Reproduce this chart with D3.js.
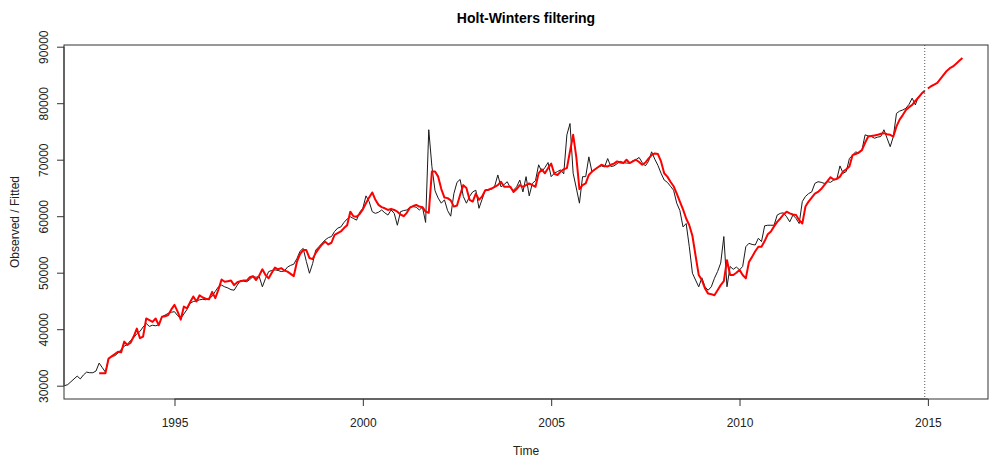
<!DOCTYPE html>
<html>
<head>
<meta charset="utf-8">
<script src="https://cdn.jsdelivr.net/npm/d3@7"></script>
<style>
  body { margin: 0; background: #fff; }
  svg { font-family: "Liberation Sans", Arial, sans-serif; }
</style>
</head>
<body>
<svg id="chart" width="990" height="460"></svg>
<script>
// monthly observed series, starts Jan 1992
const obsStart = 1992;
const observed = [
  30300, 30000, 30200, 30700, 31200, 31700, 31200, 31900, 32400, 32300, 32300, 32600, // 1992
  34000, 33200, 32400, 34800, 35200, 35300, 35800, 36400, 37000, 37300, 38000, 38500, // 1993
  39200, 39600, 40400, 41000, 40500, 40700, 40600, 40800, 42200, 42500, 42800, 43000, // 1994
  43100, 42400, 41900, 42700, 43500, 44600, 44900, 45000, 45200, 45300, 45200, 45500, // 1995
  45800, 46700, 47500, 47800, 47500, 47300, 47000, 46900, 47800, 48600, 48500, 48400, // 1996
  48800, 49300, 49200, 49300, 47500, 49000, 50200, 50400, 50500, 50400, 50200, 50300, // 1997
  51000, 51300, 51500, 52500, 53800, 54300, 52000, 49900, 51600, 54000, 54600, 55200, // 1998
  55800, 56200, 56400, 57300, 57900, 58100, 58900, 59500, 59900, 59600, 59300, 60700, // 1999
  61400, 63600, 62600, 60800, 60500, 60700, 61100, 60600, 60200, 61100, 60500, 58400, // 2000
  60800, 61000, 61100, 61600, 61700, 61600, 61100, 61600, 58900, 75300, 68800, 64500, // 2001
  63200, 62300, 62900, 61000, 60000, 64000, 66000, 66500, 63500, 62300, 63500, 64300, // 2002
  64600, 61400, 63000, 64600, 64600, 64800, 65300, 67300, 65200, 65600, 66100, 65000, // 2003
  64600, 65200, 66400, 64300, 67000, 63600, 65800, 66300, 69100, 67900, 68600, 69500, // 2004
  67000, 67600, 67900, 68200, 67500, 74400, 76400, 67600, 65000, 62300, 67000, 67000, // 2005
  70500, 67800, 68300, 68700, 68900, 68700, 70200, 68800, 68900, 69300, 69700, 69500, // 2006
  69400, 69400, 69800, 70000, 70400, 69500, 68900, 69700, 71400, 70100, 69000, 67600, // 2007
  66400, 66000, 65300, 64600, 62300, 61000, 58100, 58700, 54600, 49900, 48700, 47500, // 2008
  49100, 47500, 46900, 47500, 49000, 50200, 51700, 56400, 47500, 51100, 50600, 51000, // 2009
  50500, 51100, 54600, 55200, 55000, 54900, 56100, 55500, 58300, 58400, 58400, 58400, // 2010
  60200, 60500, 60600, 59900, 59000, 60200, 59600, 58700, 62600, 63500, 64000, 64300, // 2011
  65800, 66100, 66000, 65800, 66100, 66000, 66400, 66600, 68900, 67600, 67900, 70200, // 2012
  70800, 71400, 71100, 71700, 74400, 74200, 74100, 73800, 74000, 74100, 75300, 73800, // 2013
  72300, 74100, 78200, 78600, 78800, 79100, 79800, 80900, 79700, 81200, 81700, 82000  // 2014
];

// Holt-Winters fitted values, start Jan 1993
const fitStart = 1993;
const fitted = [
  32200, 32200, 32200, 34800, 35200, 35600, 36000, 35900, 37800, 37200, 37600, 38700, // 1993
  40100, 38400, 38700, 41900, 41600, 41300, 41900, 40700, 42200, 42300, 42500, 43500, // 1994
  44300, 43100, 41700, 44000, 43700, 44800, 45800, 44900, 46000, 45600, 45400, 45300, // 1995
  46600, 45500, 47000, 48800, 48400, 48500, 48600, 47800, 48300, 48500, 48600, 48600, // 1996
  49200, 49400, 48700, 49500, 50600, 49600, 49000, 50000, 50900, 50600, 50800, 50400, // 1997
  50200, 49800, 49400, 51900, 53300, 54000, 54000, 52600, 52400, 53500, 54300, 55000, // 1998
  55500, 55000, 55300, 56700, 57000, 57300, 57900, 58400, 60800, 60000, 59900, 60400, // 1999
  61200, 62300, 63300, 64200, 62900, 62000, 61600, 61400, 61100, 61300, 61100, 60800, // 2000
  60300, 60000, 60600, 61500, 61800, 62000, 61700, 61600, 60800, 60600, 67900, 67900, // 2001
  67000, 64800, 63300, 63200, 62800, 61700, 61900, 63800, 65500, 65000, 62900, 62600, // 2002
  64000, 62900, 63500, 64600, 64700, 64900, 65200, 65500, 66100, 65200, 65200, 65200, // 2003
  64300, 64800, 65500, 65200, 65500, 65800, 65500, 65200, 67600, 68300, 67600, 68500, // 2004
  69300, 67500, 67300, 67900, 68300, 68500, 71500, 74400, 70500, 64800, 65500, 65800, // 2005
  67300, 67900, 68300, 68700, 69100, 68900, 68800, 69100, 69300, 69700, 69500, 69400, // 2006
  70000, 69400, 69700, 70000, 69600, 69100, 69500, 70200, 70800, 71100, 71000, 69700, // 2007
  67600, 67000, 66100, 65300, 64000, 62600, 61200, 59600, 58400, 56500, 53000, 49600, // 2008
  48700, 47200, 46300, 46200, 46000, 46900, 47800, 48500, 52200, 49600, 49600, 50000, // 2009
  50500, 49600, 49000, 51900, 52800, 53800, 54600, 54600, 55600, 56800, 57300, 58200, // 2010
  59000, 59600, 60300, 60800, 60500, 60300, 60200, 59300, 58700, 61700, 62600, 63300, // 2011
  64000, 64300, 64800, 65500, 66200, 66900, 66500, 66600, 67000, 67900, 68300, 68800, // 2012
  70800, 71000, 71300, 71700, 73000, 74100, 74200, 74300, 74400, 74600, 74700, 74500, // 2013
  74400, 74100, 75900, 77100, 77900, 78800, 79300, 79700, 80400, 81000, 81700, 82200  // 2014
];

// 12-month forecast, Jan 2015 onward
const predStart = 2015;
const predicted = [82600, 83000, 83300, 83600, 84300, 85000, 85700, 86200, 86500, 87000, 87500, 88000];

const xTicks = [1995, 2000, 2005, 2010, 2015];
const yTicks = [30000, 40000, 50000, 60000, 70000, 80000, 90000];

const toPoints = (start, vals) => vals.map((v, i) => ({ t: start + i / 12, v: v }));

const obsPts = toPoints(obsStart, observed);
const fitPts = toPoints(fitStart, fitted);
const predPts = toPoints(predStart, predicted);
const endObs = obsPts[obsPts.length - 1].t;

const box = { left: 64, right: 988, top: 45, bottom: 399 };

const svg = d3.select('#chart');

const x = d3.scaleLinear().domain([1992.067, 2016.596]).range([box.left, box.right]);
const y = d3.scaleLinear().domain([27646, 90300]).range([box.bottom, box.top]);

svg.append('defs').append('clipPath').attr('id', 'plotclip')
  .append('rect')
  .attr('x', box.left).attr('y', box.top)
  .attr('width', box.right - box.left).attr('height', box.bottom - box.top);

const line = d3.line().x(d => x(d.t)).y(d => y(d.v));

const plot = svg.append('g').attr('clip-path', 'url(#plotclip)');

plot.append('path')
  .datum(obsPts)
  .attr('d', line)
  .attr('fill', 'none')
  .attr('stroke', '#1a1a1a')
  .attr('stroke-width', 1);

plot.append('path')
  .datum(fitPts)
  .attr('d', line)
  .attr('fill', 'none')
  .attr('stroke', '#ff0000')
  .attr('stroke-width', 2)
  .attr('stroke-linejoin', 'round');

plot.append('path')
  .datum(predPts)
  .attr('d', line)
  .attr('fill', 'none')
  .attr('stroke', '#ff0000')
  .attr('stroke-width', 2)
  .attr('stroke-linejoin', 'round');

// end of observed data
plot.append('line')
  .attr('x1', x(endObs)).attr('x2', x(endObs))
  .attr('y1', box.top).attr('y2', box.bottom)
  .attr('stroke', '#555')
  .attr('stroke-width', 1)
  .attr('stroke-dasharray', '1,2');

// frame
svg.append('rect')
  .attr('x', box.left).attr('y', box.top)
  .attr('width', box.right - box.left).attr('height', box.bottom - box.top)
  .attr('fill', 'none')
  .attr('stroke', '#333')
  .attr('stroke-width', 1);

// x axis
const xAxis = svg.append('g')
  .attr('transform', 'translate(0,' + box.bottom + ')')
  .call(d3.axisBottom(x).tickValues(xTicks).tickFormat(d3.format('d')).tickSize(7).tickPadding(12));
xAxis.select('.domain')
  .attr('d', 'M' + x(xTicks[0]) + ',0H' + x(xTicks[xTicks.length - 1]))
  .attr('stroke', '#333');
xAxis.selectAll('.tick line').attr('stroke', '#333');
xAxis.selectAll('text')
  .attr('font-size', 12)
  .attr('fill', '#222')
  .attr('font-family', '"Liberation Sans", Arial, sans-serif');

// y axis
const yAxis = svg.append('g')
  .attr('transform', 'translate(' + box.left + ',0)')
  .call(d3.axisLeft(y).tickValues(yTicks).tickFormat(d3.format('d')).tickSize(7));
yAxis.select('.domain')
  .attr('d', 'M0,' + y(yTicks[0]) + 'V' + y(yTicks[yTicks.length - 1]))
  .attr('stroke', '#333');
yAxis.selectAll('.tick line').attr('stroke', '#333');
yAxis.selectAll('text')
  .attr('x', null).attr('dy', null)
  .attr('transform', 'translate(-16,0) rotate(-90)')
  .attr('text-anchor', 'middle')
  .attr('font-size', 12)
  .attr('fill', '#222')
  .attr('font-family', '"Liberation Sans", Arial, sans-serif');

// titles
svg.append('text')
  .attr('x', (box.left + box.right) / 2)
  .attr('y', 23)
  .attr('text-anchor', 'middle')
  .attr('font-size', 14)
  .attr('font-weight', 'bold')
  .attr('fill', '#000')
  .text('Holt-Winters filtering');

svg.append('text')
  .attr('x', (box.left + box.right) / 2)
  .attr('y', 455)
  .attr('text-anchor', 'middle')
  .attr('font-size', 12)
  .attr('fill', '#222')
  .text('Time');

svg.append('text')
  .attr('transform', 'translate(19,' + (box.top + box.bottom) / 2 + ') rotate(-90)')
  .attr('text-anchor', 'middle')
  .attr('font-size', 12)
  .attr('fill', '#222')
  .text('Observed / Fitted');
</script>
</body>
</html>
